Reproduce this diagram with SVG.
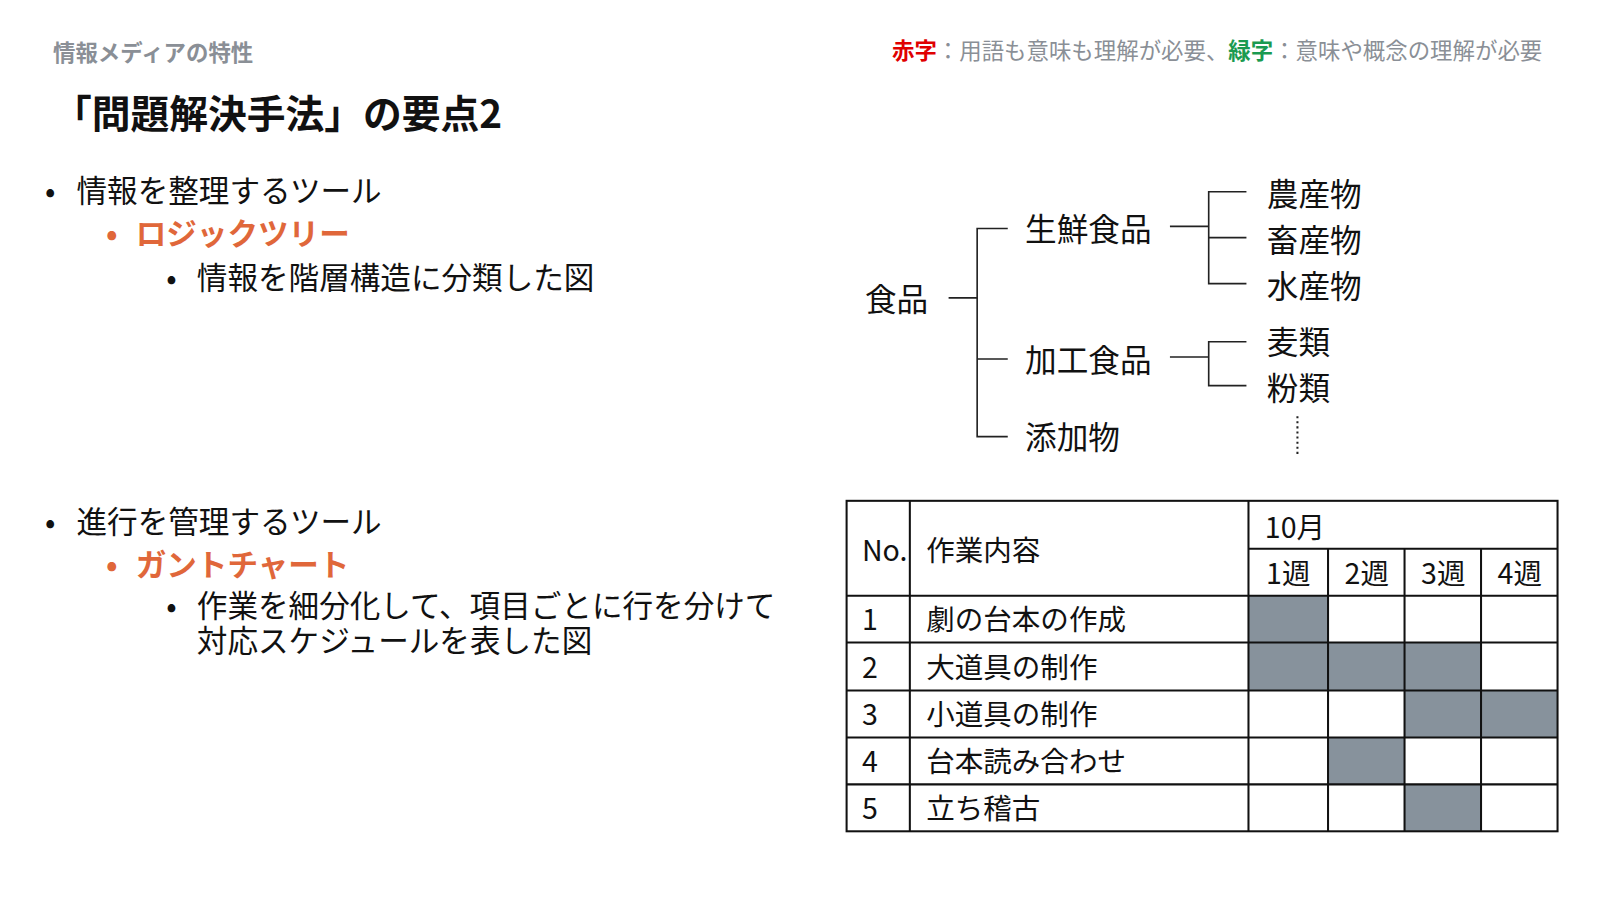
<svg xmlns="http://www.w3.org/2000/svg" width="1600" height="900" viewBox="0 0 1600 900">
<style>
text{font-family:"Noto Sans CJK JP","Noto Sans",sans-serif;fill:#111}
.b{font-size:30px}
.o{fill:#e0673a;font-weight:bold}
.t{font-size:28px}
.n{font-size:31px}
.ln{stroke:#222;stroke-width:1.6;fill:none}
.tb{stroke:#111;stroke-width:2;fill:none}
.g{fill:#87929c}
</style>
<rect width="1600" height="900" fill="#fff"/>
<g transform="scale(1.02)">
<text x="52" y="60" font-size="22" font-weight="bold" style="fill:#8a8f96">情報メディアの特性</text>
<text x="1512" y="58" font-size="22" text-anchor="end" style="fill:#8a8f96"><tspan style="fill:#e00000" font-weight="bold">赤字</tspan>：用語も意味も理解が必要、<tspan style="fill:#1a9a50" font-weight="bold">緑字</tspan>：意味や概念の理解が必要</text>
<text x="52" y="125" font-size="38" font-weight="bold">「問題解決手法」の要点2</text>
<g id="text1">
<text x="44" y="198" class="b">•</text><text x="75" y="198" class="b">情報を整理するツール</text>
<text x="104" y="240" class="b o">•</text><text x="133" y="240" class="b o">ロジックツリー</text>
<text x="163" y="283" class="b">•</text><text x="193" y="283" class="b">情報を階層構造に分類した図</text>
</g>
<g id="text2">
<text x="44" y="523" class="b">•</text><text x="75" y="523" class="b">進行を管理するツール</text>
<text x="104" y="565" class="b o">•</text><text x="133" y="565" class="b o">ガントチャート</text>
<text x="163" y="605" class="b">•</text><text x="193" y="605" class="b">作業を細分化して、項目ごとに行を分けて</text>
<text x="193" y="639" class="b">対応スケジュールを表した図</text>
</g>
<g id="tree-connectors">
<path class="ln" d="M930 292H958M988 224H958V428H988M958 352H988"/>
<path class="ln" d="M1147 222H1185M1222 188H1185V278H1222M1185 233H1222"/>
<path class="ln" d="M1147 350H1185M1222 335H1185V378H1222"/>
<path d="M1272 408V446" stroke="#222" stroke-width="2" stroke-dasharray="2,3"/>
</g>
<g id="tree-nodes">
<text x="848" y="305" class="n">食品</text>
<text x="1005" y="236" class="n">生鮮食品</text>
<text x="1005" y="365" class="n">加工食品</text>
<text x="1005" y="440" class="n">添加物</text>
<text x="1242" y="202" class="n">農産物</text>
<text x="1242" y="247" class="n">畜産物</text>
<text x="1242" y="292" class="n">水産物</text>
<text x="1242" y="347" class="n">麦類</text>
<text x="1242" y="392" class="n">粉類</text>
</g>
<g id="gantt">
<rect class="g" x="1224" y="584" width="78" height="46"/>
<rect class="g" x="1224" y="630" width="228" height="47"/>
<rect class="g" x="1377" y="677" width="150" height="46"/>
<rect class="g" x="1302" y="723" width="75" height="46"/>
<rect class="g" x="1377" y="769" width="75" height="46"/>
<rect class="tb" x="830" y="491" width="697" height="324"/>
<path class="tb" d="M892 491V815M1224 491V815M1302 538V815M1377 538V815M1452 538V815M1224 538H1527M830 584H1527M830 630H1527M830 677H1527M830 723H1527M830 769H1527"/>
<text x="845" y="550" class="t">No.</text><text x="908" y="550" class="t">作業内容</text>
<text x="1240" y="527" class="t">10月</text>
<text x="1263" y="573" class="t" text-anchor="middle">1週</text>
<text x="1340" y="573" class="t" text-anchor="middle">2週</text>
<text x="1415" y="573" class="t" text-anchor="middle">3週</text>
<text x="1490" y="573" class="t" text-anchor="middle">4週</text>
<text x="845" y="618" class="t">1</text><text x="908" y="618" class="t">劇の台本の作成</text>
<text x="845" y="665" class="t">2</text><text x="908" y="665" class="t">大道具の制作</text>
<text x="845" y="711" class="t">3</text><text x="908" y="711" class="t">小道具の制作</text>
<text x="845" y="757" class="t">4</text><text x="908" y="757" class="t">台本読み合わせ</text>
<text x="845" y="803" class="t">5</text><text x="908" y="803" class="t">立ち稽古</text>
</g>
</g>
</svg>
